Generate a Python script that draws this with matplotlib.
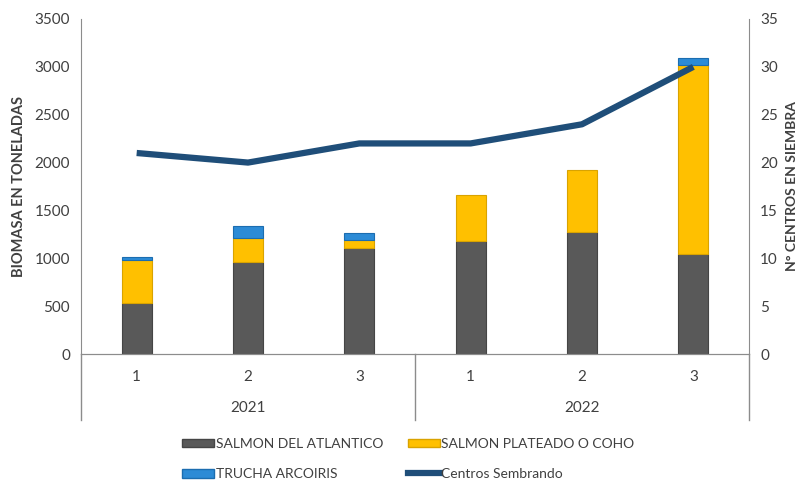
import numpy as np
import matplotlib
matplotlib.use("Agg")
import matplotlib.pyplot as plt
from matplotlib.lines import Line2D
from matplotlib.patches import Patch

plt.rcParams['font.family'] = ['Lato', 'DejaVu Sans']

# Data
quarters = ["1", "2", "3", "1", "2", "3"]
years = ["2021", "2022"]
atlantico = [530, 965, 1105, 1180, 1270, 1045]
coho = [455, 245, 85, 480, 655, 1975]
trucha = [30, 130, 75, 0, 0, 70]
centros = [21, 20, 22, 22, 24, 30]

c_gray = "#595959"
c_yellow = "#FFC000"
c_blue = "#2C8BD6"
c_line = "#1F4E79"
c_axis = "#8C8C8C"

fig = plt.figure(figsize=(8.01, 4.83), dpi=100)
ax = fig.add_axes([81 / 801, 1 - 354 / 483, (749 - 81) / 801, (354 - 19) / 483])
ax2 = ax.twinx()

x = np.arange(len(quarters))
w = 0.27
bottom2 = np.array(atlantico)
bottom3 = bottom2 + np.array(coho)
ax.bar(x, atlantico, w, color=c_gray, edgecolor="#454545", linewidth=0.8, zorder=2)
ax.bar(x, coho, w, bottom=bottom2, color=c_yellow, edgecolor="#D9A300", linewidth=0.8, zorder=2)
# only draw trout where there is a value
tr = np.array(trucha)
has = tr > 0
ax.bar(x[has], tr[has], w, bottom=bottom3[has], color=c_blue, edgecolor="#1B6DB0",
       linewidth=0.8, zorder=2)

ax2.plot(x, centros, color=c_line, linewidth=4.5, solid_capstyle="butt", zorder=3)

ax.set_xlim(-0.5, len(quarters) - 0.5)
ax.set_ylim(0, 3500)
ax.set_yticks(np.arange(0, 3501, 500))
ax2.set_ylim(0, 35)
ax2.set_yticks(np.arange(0, 36, 5))

for a in (ax, ax2):
    a.spines["top"].set_visible(False)
    a.spines["bottom"].set_color(c_axis)
    a.spines["left"].set_color(c_axis)
    a.spines["right"].set_color(c_axis)
    a.tick_params(axis="y", length=0, labelsize=11, colors="#404040", pad=8)
ax.tick_params(axis="x", length=0, labelbottom=False)
ax2.spines["left"].set_visible(False)
ax.spines["right"].set_visible(False)

# multi-level category axis
for i, q in enumerate(quarters):
    ax.text(i, -0.069, q, transform=ax.get_xaxis_transform(), ha="center", va="center",
            fontsize=11, color="#404040")
for j, yr in enumerate(years):
    ax.text(j * 3 + 1, -0.16, yr, transform=ax.get_xaxis_transform(), ha="center", va="center",
            fontsize=11, color="#404040")
for xs in (-0.5, 2.5, 5.5):
    ax.plot([xs, xs], [0, -0.197], transform=ax.get_xaxis_transform(), color=c_axis,
            linewidth=1, clip_on=False)

ax.set_ylabel("BIOMASA EN TONELADAS", fontsize=10.5, fontweight="bold", color="#404040", labelpad=6)
ax2.set_ylabel("N° CENTROS EN SIEMBRA", fontsize=10, fontweight="bold", color="#404040",
               rotation=90, labelpad=6)

# legend fills column by column, so order to give rows: gray/yellow, blue/line
handles = [
    Patch(facecolor=c_gray, edgecolor="#454545"),
    Patch(facecolor=c_blue, edgecolor="#1B6DB0"),
    Patch(facecolor=c_yellow, edgecolor="#D9A300"),
    Line2D([0], [0], color=c_line, linewidth=4.5),
]
labels = ["SALMON DEL ATLANTICO", "TRUCHA ARCOIRIS", "SALMON PLATEADO O COHO", "Centros Sembrando"]
fig.legend(handles, labels, ncol=2, loc="center", bbox_to_anchor=(0.51, 1 - 459 / 483),
           frameon=False, fontsize=10, handlelength=2.3, handleheight=0.6, handletextpad=0.1,
           columnspacing=1.8, labelspacing=1.3, labelcolor="#404040")

fig.savefig("out.png", dpi=100)
